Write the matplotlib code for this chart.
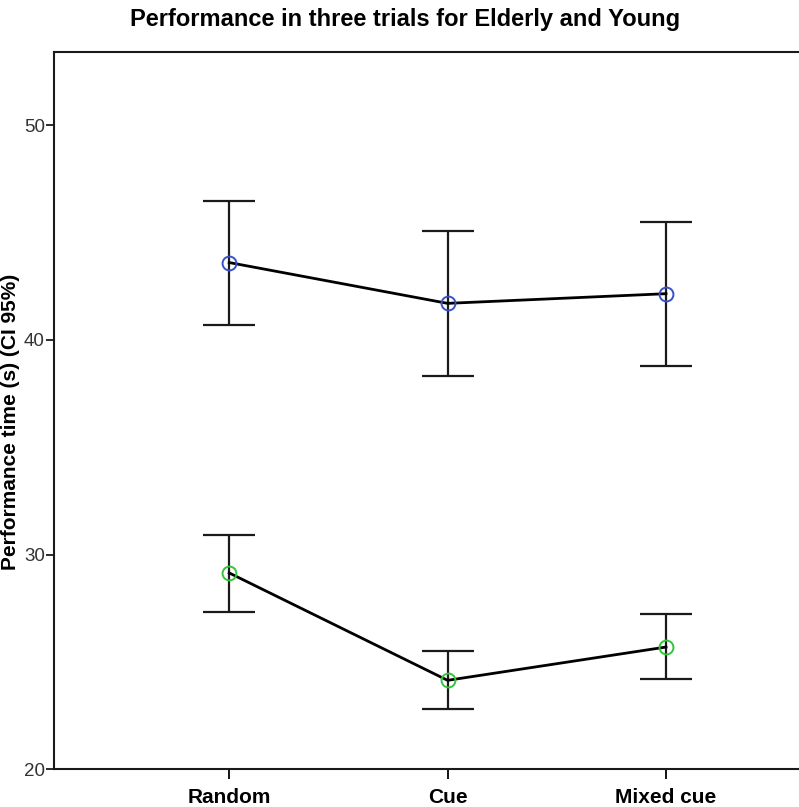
import matplotlib
matplotlib.use("Agg")
import matplotlib.pyplot as plt
import numpy as np

#%% Data

trials = ["Random", "Cue", "Mixed cue"]

elderly_mean = [43.6, 41.7, 42.15]
elderly_low = [40.7, 38.3, 38.8]
elderly_high = [46.45, 45.05, 45.5]

young_mean = [29.15, 24.15, 25.7]
young_low = [27.35, 22.8, 24.2]
young_high = [30.9, 25.5, 27.25]

y_ticks = [20, 30, 40, 50]

#%% Plot

plt.rcParams['font.family'] = ['Liberation Sans', 'DejaVu Sans']

fig = plt.figure(figsize=(7.99, 8.07), dpi=100)
ax = fig.add_axes([0.0682, 0.0465, 0.984, 0.889])

x = np.arange(1, len(trials) + 1)

def draw_group(mean, low, high, colour):
    mean = np.array(mean)
    err = [mean - np.array(low), np.array(high) - mean]
    ax.errorbar(x, mean, yerr=err, fmt='none', ecolor='#1a1a1a',
                elinewidth=1.6, capsize=19, capthick=1.6, zorder=2)
    ax.plot(x, mean, color='black', lw=2, zorder=3)
    ax.plot(x, mean, 'o', ms=10, mfc='none', mec=colour, mew=1.4, zorder=4)

draw_group(elderly_mean, elderly_low, elderly_high, '#3a50c8')
draw_group(young_mean, young_low, young_high, '#33c43c')

ax.set_xlim(0.2, 3.8)
ax.set_ylim(20, 53.4)
ax.set_yticks(y_ticks)
ax.set_xticks(x)
ax.set_xticklabels(trials, fontsize=15, fontweight='bold')
ax.tick_params(axis='y', length=6, width=1.3, labelsize=13.5, colors='#1a1a1a',
               labelcolor='#333333', pad=1)
ax.tick_params(axis='x', length=7, width=1.3, pad=6)

for side in ['left', 'bottom', 'top', 'right']:
    ax.spines[side].set_linewidth(1.5)
    ax.spines[side].set_color('#1a1a1a')

ax.set_ylabel('Performance time (s) (CI 95%)', fontsize=15, fontweight='bold')
ax.yaxis.set_label_coords(-0.044, 0.485)

fig.text(0.507, 0.968, 'Performance in three trials for Elderly and Young',
         ha='center', va='baseline', fontsize=17, fontweight='bold')

plt.savefig('out.png', dpi=100)
